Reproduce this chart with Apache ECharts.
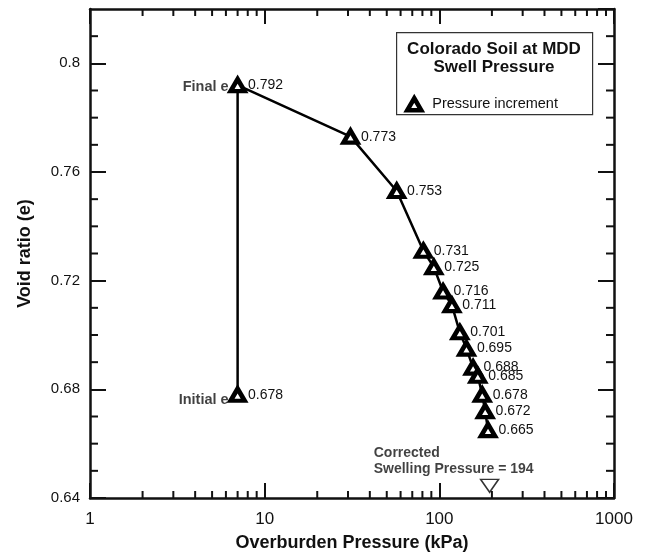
<!DOCTYPE html>
<html>
<head>
<meta charset="utf-8">
<script src="https://cdn.jsdelivr.net/npm/echarts@6/dist/echarts.min.js"></script>
<style>
  html, body { margin: 0; padding: 0; background: #fff; }
  #chart { width: 646px; height: 553px; }
</style>
</head>
<body>
<div id="chart"></div>
<script>
// Swell test: void ratio after each overburden pressure increment
const pressure  = [7, 7, 31, 57, 81, 93, 105, 118, 131, 143, 156, 166, 176, 183, 190];
const voidRatio = [0.678, 0.792, 0.773, 0.753, 0.731, 0.725, 0.716, 0.711, 0.701, 0.695, 0.688, 0.685, 0.678, 0.672, 0.665];

// End-point annotations
const endNames  = ['Initial e', 'Final e'];
const endIndex  = [0, 1];

// Corrected swelling pressure marker
const swellPressure = 194;
const swellMarkerE  = 0.6445;

// Axis ranges and ticks
const xMin = 1, xMax = 1000;
const yMin = 0.64, yMax = 0.82, yStep = 0.04;
const xMinorTicks = [2, 3, 4, 5, 6, 7, 8, 9, 20, 30, 40, 50, 60, 70, 80, 90, 200, 300, 400, 500, 600, 700, 800, 900];
const yMinorTicks = [0.65, 0.66, 0.67, 0.69, 0.70, 0.71, 0.73, 0.74, 0.75, 0.77, 0.78, 0.79, 0.81];

const FONT = '"Liberation Sans", Arial, Helvetica, sans-serif';
const INK = '#111';

const chart = echarts.init(document.getElementById('chart'), null, { renderer: 'canvas' });

const points = pressure.map((p, i) => [p, voidRatio[i]]);
const endPoints = endIndex.map((i, k) => ({
  value: [pressure[i], voidRatio[i]], name: endNames[k],
  label: { offset: [0, k === 0 ? 5 : 2] }
}));

const axisLine = { show: true, lineStyle: { color: INK, width: 2.5 } };
const xMajorTick = { show: true, inside: true, length: 15, lineStyle: { color: INK, width: 2 } };
const yMajorTick = { show: true, inside: true, length: 16, lineStyle: { color: INK, width: 2 } };

// Triangle marker: heavy black outline leaving only a small light core
const markerStyle = { color: '#fff', borderColor: '#000', borderWidth: 4.5 };

chart.setOption({
  animation: false,
  backgroundColor: '#fff',
  grid: { left: 90, right: 32, top: 9, bottom: 55, containLabel: false, outerBoundsMode: 'none' },
  xAxis: [
    {
      type: 'log', logBase: 10, min: xMin, max: xMax, position: 'bottom',
      name: 'Overburden Pressure (kPa)', nameLocation: 'middle', nameGap: 36,
      nameTextStyle: { fontFamily: FONT, fontSize: 18, fontWeight: 'bold', color: INK },
      axisLine: axisLine, axisTick: xMajorTick, splitLine: { show: false },
      axisLabel: { fontFamily: FONT, fontSize: 17, color: INK, margin: 13,
                   formatter: v => String(Math.round(v)) }
    },
    {
      type: 'log', logBase: 10, min: xMin, max: xMax, position: 'top',
      axisLine: axisLine, axisTick: xMajorTick, splitLine: { show: false },
      axisLabel: { show: false }
    }
  ],
  yAxis: [
    {
      type: 'value', min: yMin, max: yMax, interval: yStep, position: 'left',
      name: 'Void ratio (e)', nameLocation: 'middle', nameGap: 56, nameRotate: 90,
      nameTextStyle: { fontFamily: FONT, fontSize: 18, fontWeight: 'bold', color: INK },
      axisLine: axisLine, axisTick: yMajorTick, splitLine: { show: false },
      axisLabel: { fontFamily: FONT, fontSize: 15, color: INK, margin: 10, showMaxLabel: false,
                   formatter: v => String(+v.toFixed(2)) }
    },
    {
      type: 'value', min: yMin, max: yMax, interval: yStep, position: 'right',
      axisLine: axisLine, axisTick: yMajorTick, splitLine: { show: false },
      axisLabel: { show: false }
    }
  ],
  legend: {
    data: ['Pressure increment'],
    left: 400, top: 91,
    itemWidth: 14, itemHeight: 12, itemGap: 0,
    icon: 'triangle',
    itemStyle: markerStyle,
    textStyle: { fontFamily: FONT, fontSize: 14.5, color: INK, padding: [0, 0, 0, 6] }
  },
  graphic: [
    { type: 'rect', left: 396, top: 32, z: 0,
      shape: { width: 196, height: 82 },
      style: { fill: '#fff', stroke: '#333', lineWidth: 1.2 } },
    { type: 'text', x: 494, y: 49, z: 10,
      style: { text: 'Colorado Soil at MDD', font: 'bold 17px ' + FONT, fill: INK,
               align: 'center', verticalAlign: 'middle' } },
    { type: 'text', x: 494, y: 67, z: 10,
      style: { text: 'Swell Pressure', font: 'bold 17px ' + FONT, fill: INK,
               align: 'center', verticalAlign: 'middle' } }
  ],
  series: [
    {
      name: 'Pressure increment', type: 'line', data: points,
      xAxisIndex: 0, yAxisIndex: 0, z: 5,
      lineStyle: { color: '#000', width: 2.5 },
      symbol: 'triangle', symbolSize: [14, 12],
      itemStyle: markerStyle,
      label: {
        show: true, position: 'right', distance: 1,
        fontFamily: FONT, fontSize: 14, color: INK,
        formatter: p => p.value[1].toFixed(3)
      }
    },
    {
      name: 'ends', type: 'scatter', data: endPoints,
      xAxisIndex: 0, yAxisIndex: 0, z: 6,
      symbolSize: 14, itemStyle: { color: 'rgba(0,0,0,0)' }, silent: true,
      label: {
        show: true, position: 'left', distance: 2,
        fontFamily: FONT, fontSize: 14.5, fontWeight: 'bold', color: INK,
        formatter: p => p.name
      }
    },
    {
      name: 'swell', type: 'scatter', data: [[swellPressure, swellMarkerE]],
      xAxisIndex: 0, yAxisIndex: 0, z: 6,
      symbol: 'triangle', symbolRotate: 180, symbolSize: [18, 13],
      itemStyle: { color: '#fff', borderColor: '#000', borderWidth: 1.5 },
      label: {
        show: true, position: [-106, -33], align: 'left', verticalAlign: 'top',
        fontFamily: FONT, fontSize: 14, fontWeight: 'bold', color: INK, lineHeight: 16,
        formatter: p => 'Corrected\nSwelling Pressure = ' + p.value[0]
      }
    },
    {
      name: 'xMinor', type: 'custom', silent: true, clip: false,
      xAxisIndex: 0, yAxisIndex: 0,
      data: xMinorTicks.map(v => [v, yMin]),
      renderItem: (params, api) => {
        const v = api.value(0);
        const b = api.coord([v, yMin]);
        const t = api.coord([v, yMax]);
        const st = { stroke: INK, lineWidth: 2 };
        return { type: 'group', children: [
          { type: 'line', shape: { x1: b[0], y1: b[1], x2: b[0], y2: b[1] - 7 }, style: st },
          { type: 'line', shape: { x1: t[0], y1: t[1], x2: t[0], y2: t[1] + 7 }, style: st }
        ] };
      }
    },
    {
      name: 'yMinor', type: 'custom', silent: true, clip: false,
      xAxisIndex: 0, yAxisIndex: 0,
      data: yMinorTicks.map(v => [xMin, v]),
      renderItem: (params, api) => {
        const v = api.value(1);
        const l = api.coord([xMin, v]);
        const r = api.coord([xMax, v]);
        const st = { stroke: INK, lineWidth: 2 };
        return { type: 'group', children: [
          { type: 'line', shape: { x1: l[0], y1: l[1], x2: l[0] + 8, y2: l[1] }, style: st },
          { type: 'line', shape: { x1: r[0], y1: r[1], x2: r[0] - 8, y2: r[1] }, style: st }
        ] };
      }
    }
  ]
});
</script>
</body>
</html>
